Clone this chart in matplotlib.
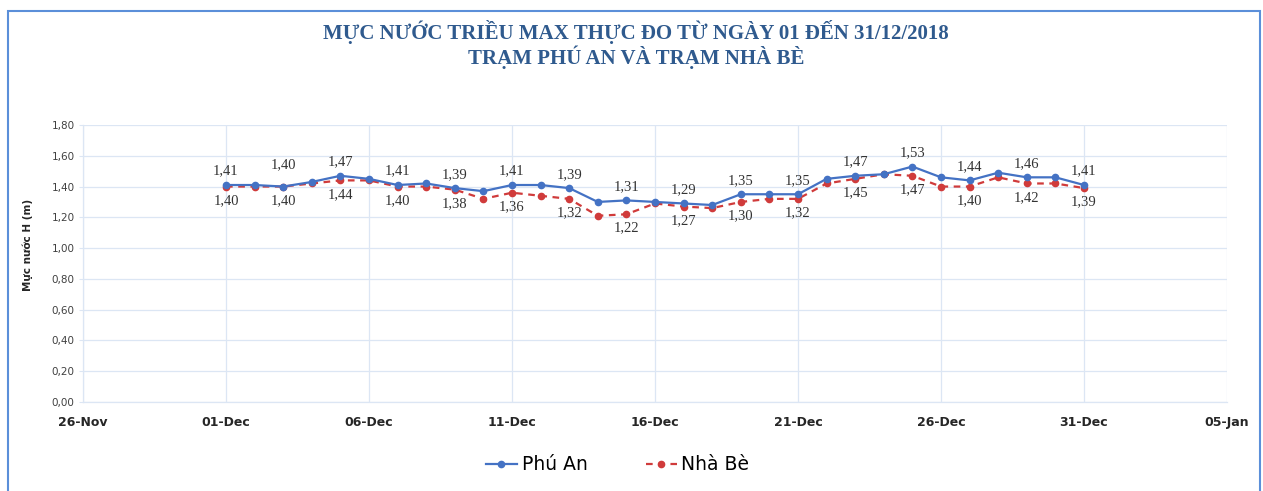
import numpy as np
import pandas as pd
import matplotlib
matplotlib.use("Agg")
import matplotlib.pyplot as plt
import matplotlib.dates as mdates
from matplotlib.patches import Rectangle

# daily max tide levels, Dec 2018
days = pd.date_range("2018-12-01", "2018-12-31", freq="D")
phu_an = [1.41, 1.41, 1.40, 1.43, 1.47, 1.45, 1.41, 1.42, 1.39, 1.37,
          1.41, 1.41, 1.39, 1.30, 1.31, 1.30, 1.29, 1.28, 1.35, 1.35,
          1.35, 1.45, 1.47, 1.48, 1.53, 1.46, 1.44, 1.49, 1.46, 1.46, 1.41]
nha_be = [1.40, 1.40, 1.40, 1.42, 1.44, 1.44, 1.40, 1.40, 1.38, 1.32,
          1.36, 1.34, 1.32, 1.21, 1.22, 1.29, 1.27, 1.26, 1.30, 1.32,
          1.32, 1.42, 1.45, 1.48, 1.47, 1.40, 1.40, 1.46, 1.42, 1.42, 1.39]
x_ticks = pd.date_range("2018-11-26", periods=9, freq="5D")
y_ticks = [0.0, 0.2, 0.4, 0.6, 0.8, 1.0, 1.2, 1.4, 1.6, 1.8]

title1 = "MỰC NƯỚC TRIỀU MAX THỰC ĐO TỪ NGÀY 01 ĐẾN 31/12/2018"
title2 = "TRẠM PHÚ AN VÀ TRẠM NHÀ BÈ"

blue = "#4472C4"
red = "#D03B3B"
grid_c = "#DCE6F4"

fig = plt.figure(figsize=(12.63, 4.91), dpi=100)
ax = fig.add_axes([83/1263, 89/491, (1227-83)/1263, (402-125)/491])

ax.plot(days, phu_an, color=blue, lw=1.6, marker="o", ms=4.5, label="Phú An", zorder=4)
ax.plot(days, nha_be, color=red, lw=1.6, ls=(0, (3, 2.5)), marker="o", ms=4.5,
        label="Nhà Bè", zorder=3)

fmt = lambda v: f"{v:.2f}".replace(".", ",")
lab_font = dict(family="Liberation Serif", fontsize=10.5, color="#333333", ha="center", va="center")
for i in range(0, len(days), 2):
    up = 16 if i == 2 else 10
    ax.annotate(fmt(phu_an[i]), (days[i], phu_an[i]), xytext=(0, up),
                textcoords="offset points", **lab_font)
    ax.annotate(fmt(nha_be[i]), (days[i], nha_be[i]), xytext=(0, -10),
                textcoords="offset points", **lab_font)

ax.set_xlim(x_ticks[0], x_ticks[-1])
ax.set_ylim(0, 1.8)
ax.set_xticks(x_ticks)
ax.xaxis.set_major_formatter(mdates.DateFormatter("%d-%b"))
ax.set_yticks(y_ticks)
ax.set_yticklabels([fmt(v) for v in y_ticks])
ax.grid(True, color=grid_c, lw=0.9)
ax.set_axisbelow(True)
for s in ["top", "right"]:
    ax.spines[s].set_visible(False)
for s in ["left", "bottom"]:
    ax.spines[s].set_color(grid_c)
    ax.spines[s].set_linewidth(0.9)

ax.tick_params(axis="y", length=3, color=grid_c, labelsize=7.5, labelcolor="#404040", pad=3)
ax.tick_params(axis="x", length=0, labelsize=9, labelcolor="#262626", pad=10)
for t in ax.get_xticklabels():
    t.set_fontweight("bold")

ax.set_ylabel("Mực nước H (m)", fontsize=7.5, fontweight="bold", color="#262626")
ax.yaxis.set_label_coords(-0.0437, 0.567)

fig.text(0.5036, 1 - 32/491, title1, ha="center", va="center", family="Liberation Serif",
         fontweight="bold", fontsize=15, color="#2F5A8E")
fig.text(0.5036, 1 - 57/491, title2, ha="center", va="center", family="Liberation Serif",
         fontweight="bold", fontsize=15, color="#2F5A8E")

fig.legend(loc="center", bbox_to_anchor=(0.489, 1 - 465/491), ncol=2, frameon=False,
           fontsize=13.5, handlelength=1.65, handletextpad=0.25, columnspacing=3.1)

fig.patches.append(Rectangle((8/1263, -0.05), (1260-8)/1263, 1.05 - 11.5/491,
                             transform=fig.transFigure, fill=False, ec="#5B8FD9", lw=1.5))

fig.savefig("out.png", dpi=100)
